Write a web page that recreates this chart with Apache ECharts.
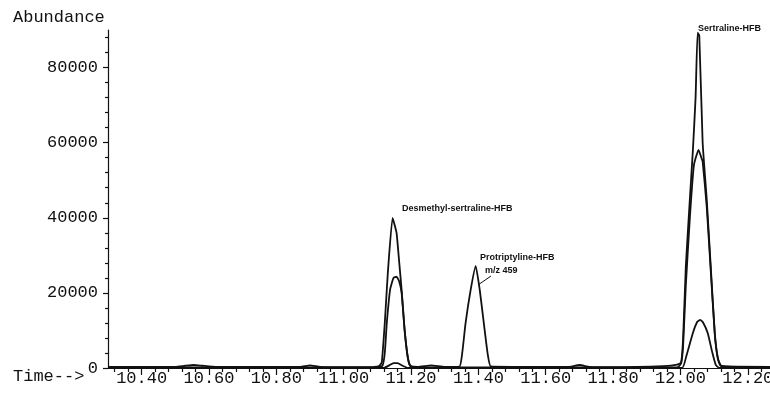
<!DOCTYPE html>
<html>
<head>
<meta charset="utf-8">
<script src="https://cdn.jsdelivr.net/npm/echarts@6/dist/echarts.min.js"></script>
<style>
  html, body { margin: 0; padding: 0; background: #fff; }
  #main { width: 770px; height: 401px; }
</style>
</head>
<body>
<div id="main"></div>
<script>
// ion trace 1 (outer envelope, also carries protriptyline m/z 459)
const times1 = [10.30, 10.50, 10.53, 10.555, 10.58, 10.62, 10.87, 10.90, 10.93, 11.00, 11.09,
  11.105, 11.113, 11.122, 11.131, 11.145, 11.150, 11.157, 11.165, 11.172, 11.181, 11.19, 11.198,
  11.22, 11.26, 11.30, 11.344, 11.352, 11.362, 11.377, 11.392, 11.404, 11.416, 11.428, 11.437,
  11.50, 11.67, 11.70, 11.73, 11.80, 11.95, 11.99,
  12.002, 12.008, 12.016, 12.028, 12.037, 12.045, 12.051, 12.056, 12.066, 12.078, 12.09, 12.102, 12.111, 12.12,
  12.14, 12.266];
const abund1 = [300, 300, 600, 800, 600, 300, 300, 700, 300, 200, 300,
  500, 1500, 12000, 25300, 40000, 38500, 36000, 28000, 20800, 10000, 3000, 600,
  300, 700, 300, 400, 4000, 12000, 20800, 27200, 20800, 12000, 3500, 400,
  300, 300, 800, 300, 200, 500, 900,
  1500, 8000, 27000, 45000, 58000, 72000, 89300, 88500, 60000, 45000, 27000, 9300, 2700, 700,
  400, 300];

// ion trace 2
const times2 = [10.30, 11.10, 11.115, 11.122, 11.128, 11.138, 11.148, 11.157, 11.165, 11.172, 11.181, 11.19, 11.198,
  11.22, 11.99, 12.002, 12.008, 12.016, 12.028, 12.040, 12.054, 12.062, 12.066, 12.078, 12.09, 12.102, 12.111, 12.12, 12.266];
const abund2 = [150, 150, 600, 4000, 12000, 21000, 24000, 24300, 23000, 20000, 10000, 3000, 500,
  150, 150, 1200, 6000, 22000, 40000, 54000, 58100, 56000, 55000, 43000, 26000, 9000, 2500, 500, 150];

// ion trace 3
const times3 = [10.30, 11.12, 11.135, 11.148, 11.16, 11.175, 11.19, 12.005, 12.017, 12.037, 12.05, 12.059,
  12.068, 12.081, 12.095, 12.105, 12.115, 12.266];
const abund3 = [50, 50, 700, 1300, 1300, 600, 50, 50, 3000, 9300, 12300, 12800,
  12000, 9300, 4000, 800, 50, 50];

// axis ticks
const xMajor = [10.40, 10.60, 10.80, 11.00, 11.20, 11.40, 11.60, 11.80, 12.00, 12.20];
const xMinor = [10.32, 10.36, 10.44, 10.48, 10.52, 10.56, 10.64, 10.68, 10.72, 10.76, 10.84, 10.88, 10.92, 10.96,
  11.04, 11.08, 11.12, 11.16, 11.24, 11.28, 11.32, 11.36, 11.44, 11.48, 11.52, 11.56, 11.64, 11.68, 11.72, 11.76,
  11.84, 11.88, 11.92, 11.96, 12.04, 12.08, 12.12, 12.16, 12.24];
const yMajor = [0, 20000, 40000, 60000, 80000];
const yMinor = [4000, 8000, 12000, 16000, 24000, 28000, 32000, 36000, 44000, 48000, 52000, 56000,
  64000, 68000, 72000, 76000, 84000, 88000];

const xMin = 10.30, xMax = 12.266, yMax = 90000;
const mono = '"Liberation Mono", "DejaVu Sans Mono", monospace';
const sans = 'bold 9px "Liberation Sans", Arial, sans-serif';
const ink = '#111';

function pairs(t, a) {
    let out = [];
    for (let i = 0; i < t.length; i++) out.push([t[i], a[i]]);
    return out;
}

function lineSeries(t, a) {
    return {
        type: 'line',
        data: pairs(t, a),
        symbol: 'none',
        smooth: 0.15,
        lineStyle: { color: ink, width: 1.8 },
        xAxisIndex: 0,
        yAxisIndex: 0,
        z: 3
    };
}

let myChart = echarts.init(document.getElementById('main'));
myChart.setOption({
    animation: false,
    backgroundColor: '#fff',
    grid: { left: 108, right: 0, top: 30, bottom: 33, outerBoundsMode: 'none', containLabel: false },
    xAxis: [
        {
            type: 'value', min: xMin, max: xMax,
            splitLine: { show: false },
            axisLine: { lineStyle: { color: ink, width: 1.2 } },
            axisTick: { customValues: xMajor, length: 7, lineStyle: { color: ink, width: 1.2 } },
            axisLabel: {
                customValues: xMajor, margin: 2,
                formatter: function (v) { return v.toFixed(2); },
                fontFamily: mono, fontSize: 17, color: ink
            }
        },
        {
            type: 'value', min: xMin, max: xMax, position: 'bottom',
            splitLine: { show: false },
            axisLine: { show: false },
            axisTick: { customValues: xMinor, length: 4, lineStyle: { color: ink, width: 1.2 } },
            axisLabel: { show: false }
        }
    ],
    yAxis: [
        {
            type: 'value', min: 0, max: yMax,
            splitLine: { show: false },
            axisLine: { show: true, lineStyle: { color: ink, width: 1.2 } },
            axisTick: { show: true, customValues: yMajor, length: 5, lineStyle: { color: ink, width: 1.2 } },
            axisLabel: {
                customValues: yMajor, margin: 10,
                formatter: function (v) { return String(v); },
                fontFamily: mono, fontSize: 17, color: ink
            }
        },
        {
            type: 'value', min: 0, max: yMax, position: 'left',
            splitLine: { show: false },
            axisLine: { show: false },
            axisTick: { show: true, customValues: yMinor, length: 3, lineStyle: { color: ink, width: 1.2 } },
            axisLabel: { show: false }
        }
    ],
    series: [
        lineSeries(times1, abund1),
        lineSeries(times2, abund2),
        lineSeries(times3, abund3)
    ],
    graphic: [
        { type: 'text', left: 13, top: 9, style: { text: 'Abundance', font: '17px ' + mono, fill: ink } },
        { type: 'text', left: 13, top: 368, style: { text: 'Time-->', font: '17px ' + mono, fill: ink } },
        { type: 'text', left: 402, top: 204, style: { text: 'Desmethyl-sertraline-HFB', font: sans, fill: ink } },
        { type: 'text', left: 480, top: 253, style: { text: 'Protriptyline-HFB', font: sans, fill: ink } },
        { type: 'text', left: 485, top: 266, style: { text: 'm/z 459', font: sans, fill: ink } },
        { type: 'line', shape: { x1: 491, y1: 276, x2: 478, y2: 285 }, style: { stroke: ink, lineWidth: 1 } },
        { type: 'text', left: 698, top: 24, style: { text: 'Sertraline-HFB', font: sans, fill: ink } }
    ]
});
</script>
</body>
</html>
